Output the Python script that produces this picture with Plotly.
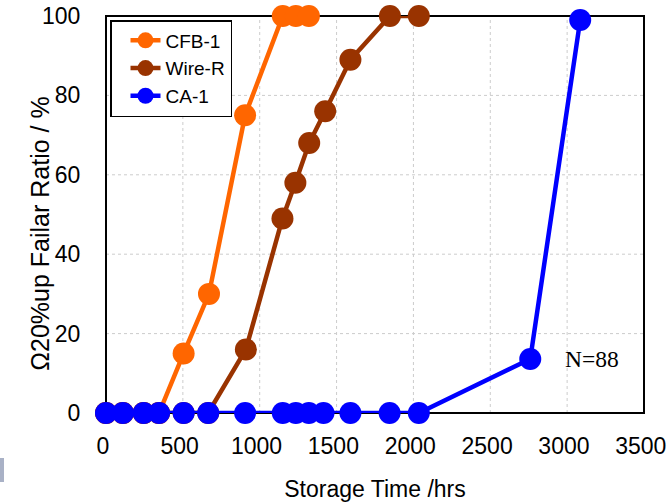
import plotly.graph_objects as go

# Storage time (hrs) and failure ratio (%) for each sample type
cfb_time = [0, 110, 245, 345, 505, 670, 905, 1150, 1235, 1320]
cfb_ratio = [0, 0, 0, 0, 15, 30, 75, 100, 100, 100]

wire_time = [0, 110, 245, 345, 505, 665, 910, 1148, 1232, 1322, 1426, 1590, 1847, 2035]
wire_ratio = [0, 0, 0, 0, 0, 0, 16, 49, 58, 68, 76, 89, 100, 100]

ca_time = [0, 110, 245, 345, 505, 665, 905, 1150, 1235, 1320, 1415, 1590, 1845, 2035, 2760, 3085]
ca_ratio = [0, 0, 0, 0, 0, 0, 0, 0, 0, 0, 0, 0, 0, 0, 13.6, 99]

x_ticks = [0, 500, 1000, 1500, 2000, 2500, 3000, 3500]
y_ticks = [0, 20, 40, 60, 80, 100]
sample_count = 88

series = [
    ("CFB-1", cfb_time, cfb_ratio, "#FF6600"),
    ("Wire-R", wire_time, wire_ratio, "#993300"),
    ("CA-1", ca_time, ca_ratio, "#0000FF"),
]

fig = go.Figure()
for name, xs, ys, color in series:
    fig.add_trace(go.Scatter(
        x=xs, y=ys, name=name, mode="lines+markers",
        line=dict(color=color, width=4.5),
        marker=dict(color=color, size=22),
        cliponaxis=False,
    ))

# empty trace that brings up the overlay axes used for the tick labels
fig.add_trace(go.Scatter(x=[None], y=[None], xaxis="x2", yaxis="y2",
                         mode="markers", showlegend=False, hoverinfo="skip"))

fig.add_annotation(
    x=3160, y=13.5, xref="x", yref="y", text=f"N={sample_count}",
    showarrow=False,
    font=dict(family="Liberation Serif, Times New Roman, serif", size=23.5, color="#000000"),
)

# y-axis title, set a little below the middle of the frame
fig.add_annotation(
    x=(24 - 106) / 538, y=(413.3 - 234) / 397, xref="paper", yref="paper",
    text="Ω20%up Failar Ratio / %", textangle=-90, showarrow=False,
    font=dict(family="Liberation Sans, Arial, sans-serif", size=25, color="#000000"),
)

# dotted grid at the interior tick positions
for v in x_ticks[1:-1]:
    fig.add_shape(type="line", xref="x", yref="paper", x0=v, x1=v, y0=0, y1=1,
                  line=dict(color="#cccccc", width=1, dash="dot"), layer="below")
for v in y_ticks[1:-1]:
    fig.add_shape(type="line", xref="paper", yref="y", x0=0, x1=1, y0=v, y1=v,
                  line=dict(color="#cccccc", width=1, dash="dot"), layer="below")

# black frame around the plotting area
fig.add_shape(type="rect", xref="paper", yref="paper", x0=0, x1=1, y0=0, y1=1,
              line=dict(color="#000000", width=2), fillcolor="rgba(0,0,0,0)",
              layer="below")

# small grey tab at the lower-left edge
fig.add_shape(type="rect", xref="paper", yref="paper",
              x0=-106 / 538, x1=-102 / 538, y0=-69 / 397, y1=-45 / 397,
              fillcolor="#a9b1c6", line=dict(width=0), layer="above")

axis_font = dict(family="Liberation Sans, Arial, sans-serif", size=23, color="#000000")
title_font = dict(family="Liberation Sans, Arial, sans-serif", size=23, color="#000000")

# base axes: fixed ranges, nothing drawn by themselves
base = dict(
    showline=False, showgrid=False, zeroline=False, showticklabels=False,
    ticks="", automargin=False,
)
# overlay axes carrying the tick labels; transparent outside ticks space them out
labels = dict(
    showline=False, showgrid=False, zeroline=False,
    ticks="outside", tickcolor="rgba(0,0,0,0)", tickfont=axis_font,
    automargin=False, ticklabeloverflow="allow",
)

fig.update_layout(
    xaxis=dict(range=[0, 3500], **base),
    yaxis=dict(range=[0, 100], **base),
    xaxis2=dict(
        range=[0, 3500], tickvals=x_ticks, ticktext=[f"{v}\u00a0" for v in x_ticks],
        overlaying="x", anchor="y2", side="bottom", ticklen=12,
        title=dict(text="Storage Time /hrs", font=title_font, standoff=25),
        **labels,
    ),
    yaxis2=dict(
        range=[0, 100], tickvals=y_ticks, ticktext=[str(v) for v in y_ticks],
        overlaying="y", anchor="x2", side="left", ticklen=20,
        **labels,
    ),
)

fig.update_layout(
    width=669, height=502,
    margin=dict(l=106, r=25, t=16, b=89, autoexpand=False),
    paper_bgcolor="#ffffff", plot_bgcolor="#ffffff",
    showlegend=True,
    legend=dict(
        x=4 / 538, y=1 - 4 / 397, xanchor="left", yanchor="top",
        bgcolor="#ffffff", bordercolor="#000000", borderwidth=1.5,
        font=dict(family="Liberation Sans, Arial, sans-serif", size=19, color="#000000"),
        tracegroupgap=0, indentation=14,
    ),
)

fig.write_html("out.html")
